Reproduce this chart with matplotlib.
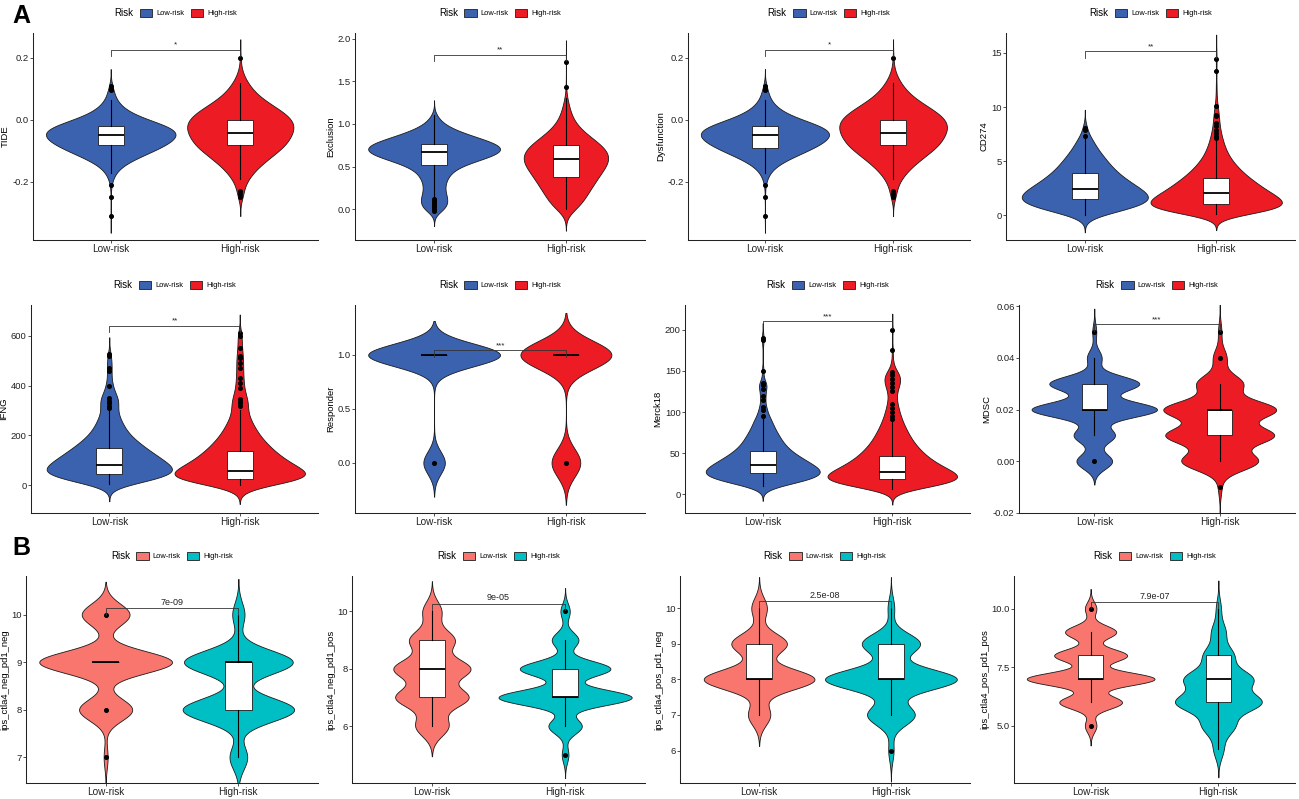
import numpy as np
import matplotlib
matplotlib.use("Agg")
import matplotlib.pyplot as plt
from matplotlib import mlab
from matplotlib.patches import Patch
from matplotlib.ticker import FormatStrFormatter

# ---------------- DATA ----------------
groups = ["Low-risk", "High-risk"]

# A1 TIDE
tide_low_vals = [-0.31, -0.25, -0.21, -0.19, -0.17, -0.15, -0.13, -0.11, -0.09, -0.07, -0.05, -0.03, -0.01, 0.01, 0.03, 0.05, 0.07, 0.09, 0.11]
tide_low_counts = [1, 1, 2, 6, 14, 30, 60, 100, 140, 172, 190, 185, 135, 80, 45, 25, 14, 9, 5]
tide_high_vals = [-0.25, -0.23, -0.21, -0.19, -0.17, -0.15, -0.13, -0.11, -0.09, -0.07, -0.05, -0.03, -0.01, 0.01, 0.03, 0.05, 0.07, 0.09, 0.11, 0.13, 0.15, 0.17, 0.2]
tide_high_counts = [8, 10, 14, 24, 38, 55, 78, 100, 125, 140, 150, 158, 158, 145, 120, 90, 62, 42, 28, 16, 8, 3, 2]
tide_low_box = [-0.17, -0.081, -0.050, -0.021, 0.065]
tide_high_box = [-0.19, -0.080, -0.041, 0.0, 0.12]
tide_low_out = [-0.31, -0.25, -0.21, 0.095, 0.10, 0.11]
tide_high_out = [-0.23, -0.24, -0.25, 0.2]

# A2 Exclusion
excl_low_vals = [-0.02, 0.0, 0.05, 0.1, 0.15, 0.2, 0.25, 0.3, 0.35, 0.4, 0.45, 0.5, 0.55, 0.6, 0.65, 0.7, 0.75, 0.8, 0.85, 0.9, 0.95, 1.0, 1.05, 1.1]
excl_low_counts = [10, 32, 40, 42, 38, 33, 31, 33, 38, 44, 55, 75, 110, 155, 195, 212, 200, 165, 120, 82, 50, 28, 15, 9]
excl_high_vals = [0.0, 0.05, 0.1, 0.15, 0.2, 0.25, 0.3, 0.35, 0.4, 0.45, 0.5, 0.55, 0.6, 0.65, 0.7, 0.75, 0.8, 0.85, 0.9, 0.95, 1.0, 1.05, 1.1, 1.15, 1.2, 1.25, 1.3, 1.43, 1.73]
excl_high_counts = [40, 45, 52, 60, 68, 76, 84, 92, 100, 110, 120, 128, 132, 130, 122, 108, 90, 72, 55, 40, 30, 22, 17, 13, 10, 7, 5, 2, 1]
excl_low_box = [0.15, 0.516, 0.669, 0.763, 1.10]
excl_high_box = [0.0, 0.372, 0.591, 0.751, 1.30]
excl_low_out = [0.12, 0.10, 0.08, 0.06, 0.04, 0.02, 0.0, -0.02]
excl_high_out = [1.43, 1.73]

# A3 Dysfunction
dysf_low_vals = [-0.31, -0.25, -0.21, -0.19, -0.17, -0.15, -0.13, -0.11, -0.09, -0.07, -0.05, -0.03, -0.01, 0.01, 0.03, 0.05, 0.07, 0.09, 0.11]
dysf_low_counts = [1, 1, 2, 6, 14, 30, 60, 100, 140, 172, 190, 185, 135, 80, 45, 25, 14, 9, 5]
dysf_high_vals = [-0.25, -0.23, -0.21, -0.19, -0.17, -0.15, -0.13, -0.11, -0.09, -0.07, -0.05, -0.03, -0.01, 0.01, 0.03, 0.05, 0.07, 0.09, 0.11, 0.13, 0.15, 0.17, 0.2]
dysf_high_counts = [8, 10, 14, 24, 38, 55, 78, 100, 125, 140, 150, 158, 158, 145, 120, 90, 62, 42, 28, 16, 8, 3, 2]
dysf_low_box = [-0.17, -0.090, -0.050, -0.021, 0.065]
dysf_high_box = [-0.19, -0.080, -0.041, 0.0, 0.12]
dysf_low_out = [-0.31, -0.25, -0.21, 0.095, 0.10, 0.11]
dysf_high_out = [-0.23, -0.24, -0.25, 0.2]

# A4 CD274
cd274_low_vals = [0.05, 0.5, 1.0, 1.5, 2.0, 2.5, 3.0, 3.5, 4.0, 4.5, 5.0, 5.5, 6.0, 6.5, 7.0, 7.35, 7.9, 8.1]
cd274_low_counts = [40, 120, 180, 200, 185, 160, 135, 112, 93, 78, 65, 53, 40, 30, 22, 8, 6, 6]
cd274_high_vals = [0.1, 0.5, 1.0, 1.5, 2.0, 2.5, 3.0, 3.5, 4.0, 4.5, 5.0, 5.5, 6.0, 6.5, 7.0, 7.5, 8.0, 8.5, 9.0, 9.5, 10.1, 11.0, 12.0, 13.3, 14.4, 15.2]
cd274_high_counts = [60, 170, 200, 180, 155, 130, 110, 90, 72, 58, 45, 35, 28, 22, 18, 14, 11, 9, 8, 7, 6, 3, 2, 2, 2, 1]
cd274_low_box = [0.05, 1.51, 2.43, 3.85, 7.0]
cd274_high_box = [0.1, 1.05, 2.06, 3.39, 6.9]
cd274_low_out = [7.35, 7.9, 8.1]
cd274_high_out = [7.1, 7.3, 7.6, 7.9, 8.2, 8.5, 9.2, 9.3, 10.1, 13.3, 14.4]

# B1 IFNG
ifng_low_vals = [5, 25, 50, 75, 100, 125, 150, 175, 200, 225, 250, 275, 300, 325, 350, 375, 400, 425, 450, 475, 500, 525]
ifng_low_counts = [35, 130, 190, 175, 150, 125, 100, 78, 58, 45, 36, 28, 22, 26, 26, 14, 10, 6, 6, 7, 6, 5]
ifng_high_vals = [0, 25, 50, 75, 100, 125, 150, 175, 200, 225, 250, 275, 300, 325, 350, 375, 400, 425, 450, 475, 500, 525, 550, 575, 600, 610]
ifng_high_counts = [60, 200, 185, 150, 122, 100, 82, 66, 52, 42, 33, 25, 20, 23, 20, 13, 11, 10, 9, 9, 9, 8, 6, 5, 5, 3]
ifng_low_box = [5, 44, 83, 149, 300]
ifng_high_box = [0, 25.5, 59, 139, 300]
ifng_low_out = [310, 320, 330, 340, 350, 400, 460, 470, 520, 525]
ifng_high_out = [320, 330, 340, 345, 390, 410, 430, 470, 490, 510, 520, 550, 600, 610]

# B2 Responder
resp_vals = [0, 1]
resp_low_counts = [14, 86]
resp_high_counts = [24, 76]
resp_low_box = [1, 1, 1, 1, 1]
resp_high_box = [1, 1, 1, 1, 1]
resp_low_out = [0]
resp_high_out = [0]

# B3 Merck18
merck_low_vals = [10, 15, 20, 25, 30, 35, 40, 45, 50, 55, 60, 65, 70, 75, 80, 85, 90, 95, 102, 106, 115, 120, 128, 133, 135, 150, 175, 188, 190]
merck_low_counts = [40, 110, 160, 178, 172, 150, 130, 110, 90, 76, 64, 56, 49, 42, 35, 30, 25, 22, 14, 12, 10, 10, 12, 12, 10, 6, 1, 4, 4]
merck_high_vals = [7, 10, 15, 20, 25, 30, 35, 40, 45, 50, 55, 60, 65, 70, 75, 80, 85, 90, 95, 100, 105, 110, 115, 120, 125, 130, 135, 140, 145, 150, 160, 175, 200]
merck_high_counts = [30, 110, 185, 200, 180, 155, 132, 113, 98, 85, 74, 64, 56, 49, 43, 37, 32, 27, 23, 20, 17, 14, 12, 11, 13, 17, 22, 25, 22, 15, 6, 4, 3]
merck_low_box = [10, 25.6, 35.3, 52.7, 93]
merck_high_box = [7, 18.3, 27.6, 46.2, 88]
merck_low_out = [95, 102, 106, 115, 120, 128, 133, 135, 150, 188, 190]
merck_high_out = [92, 95, 100, 105, 110, 125, 130, 135, 140, 145, 148, 175, 200]

# B4 MDSC
mdsc_low_vals = [0.0, 0.01, 0.02, 0.03, 0.04, 0.05]
mdsc_low_counts = [27, 31, 95, 68, 11, 3]
mdsc_high_vals = [-0.01, 0.0, 0.01, 0.02, 0.03, 0.04, 0.05]
mdsc_high_counts = [3, 68, 96, 100, 41, 12, 3]
mdsc_low_box = [0.01, 0.02, 0.02, 0.03, 0.04]
mdsc_high_box = [0.0, 0.01, 0.02, 0.02, 0.03]
mdsc_low_out = [0.0, 0.05]
mdsc_high_out = [-0.01, 0.04, 0.05]

# C1 ips_ctla4_neg_pd1_neg
nn_low_vals = [7, 8, 9, 10]
nn_low_counts = [3, 40, 100, 36]
nn_high_vals = [7, 8, 9, 10]
nn_high_counts = [13, 82, 80, 9]
nn_low_box = [9, 9, 9, 9, 9]
nn_high_box = [7, 8, 9, 9, 10]
nn_low_out = [7, 8, 10]
nn_high_out = []

# C2 ips_ctla4_neg_pd1_pos
np_low_vals = [6, 7, 8, 9, 10]
np_low_counts = [45, 100, 105, 62, 26]
np_high_vals = [5, 6, 7, 8, 9, 10]
np_high_counts = [5, 25, 100, 68, 20, 7]
np_low_box = [6, 7, 8, 9, 10]
np_high_box = [6, 7, 7, 8, 9]
np_low_out = []
np_high_out = [5, 10]

# C3 ips_ctla4_pos_pd1_neg
pn_low_vals = [7, 8, 9, 10]
pn_low_counts = [20, 100, 50, 14]
pn_high_vals = [6, 7, 8, 9, 10]
pn_high_counts = [4, 36, 100, 44, 5]
pn_low_box = [7, 8, 8, 9, 10]
pn_high_box = [7, 8, 8, 9, 10]
pn_low_out = []
pn_high_out = [6]

# C4 ips_ctla4_pos_pd1_pos
pp_low_vals = [5, 6, 7, 8, 9, 10]
pp_low_counts = [9, 49, 100, 57, 40, 9]
pp_high_vals = [4, 5, 6, 7, 8, 9, 10]
pp_high_counts = [14, 45, 120, 95, 42, 20, 7]
pp_low_box = [6, 7, 7, 8, 9]
pp_high_box = [4, 6, 7, 8, 10]
pp_low_out = [5, 10]
pp_high_out = []

ylabels = ["TIDE", "Exclusion", "Dysfunction", "CD274",
           "IFNG", "Responder", "Merck18", "MDSC",
           "ips_ctla4_neg_pd1_neg", "ips_ctla4_neg_pd1_pos", "ips_ctla4_pos_pd1_neg", "ips_ctla4_pos_pd1_pos"]
sig_labels = ["*", "**", "*", "**", "**", "***", "***", "***", "7e-09", "9e-05", "2.5e-08", "7.9e-07"]
sig_y = [0.226, 1.816, 0.226, 15.15, 640, 1.043, 210, 0.0529, 10.13, 10.27, 10.19, 10.28]

# ---------------- STYLE / LAYOUT ----------------
plt.rcParams['font.family'] = ['Liberation Sans', 'DejaVu Sans']
plt.rcParams['axes.unicode_minus'] = False

W, H = 1299, 799
fig = plt.figure(figsize=(W / 100, H / 100), dpi=100)

colA = ["#3B62AF", "#ED1C24"]
colB = ["#F8766D", "#00BFC4"]

panels = [
    dict(rect=(33, 33, 318, 240), d=(tide_low_vals, tide_low_counts, tide_high_vals, tide_high_counts), box=(tide_low_box, tide_high_box), out=(tide_low_out, tide_high_out), bw=(0.018, 0.02), w=(1.0, 0.82), ylim=(-0.387, 0.28), yt=[-0.2, 0.0, 0.2], fmt='%.1f', col=colA),
    dict(rect=(355, 33, 645, 240), d=(excl_low_vals, excl_low_counts, excl_high_vals, excl_high_counts), box=(excl_low_box, excl_high_box), out=(excl_low_out, excl_high_out), bw=(0.06, 0.085), w=(1.0, 0.64), ylim=(-0.364, 2.07), yt=[0.0, 0.5, 1.0, 1.5, 2.0], fmt='%.1f', col=colA),
    dict(rect=(688, 33, 970, 240), d=(dysf_low_vals, dysf_low_counts, dysf_high_vals, dysf_high_counts), box=(dysf_low_box, dysf_high_box), out=(dysf_low_out, dysf_high_out), bw=(0.018, 0.02), w=(1.0, 0.84), ylim=(-0.387, 0.28), yt=[-0.2, 0.0, 0.2], fmt='%.1f', col=colA),
    dict(rect=(1006, 33, 1295, 240), d=(cd274_low_vals, cd274_low_counts, cd274_high_vals, cd274_high_counts), box=(cd274_low_box, cd274_high_box), out=(cd274_low_out, cd274_high_out), bw=(0.55, 0.5), w=(0.96, 1.0), ylim=(-2.31, 16.85), yt=[0, 5, 10, 15], fmt='%d', col=colA),
    dict(rect=(31, 305, 318, 513), d=(ifng_low_vals, ifng_low_counts, ifng_high_vals, ifng_high_counts), box=(ifng_low_box, ifng_high_box), out=(ifng_low_out, ifng_high_out), bw=(23, 25), w=(0.96, 1.0), ylim=(-111, 723), yt=[0, 200, 400, 600], fmt='%d', col=colA),
    dict(rect=(355, 305, 645, 513), d=(resp_vals, resp_low_counts, resp_vals, resp_high_counts), box=(resp_low_box, resp_high_box), out=(resp_low_out, resp_high_out), bw=(0.105, 0.13), w=(1.0, 0.69), ylim=(-0.466, 1.463), yt=[0.0, 0.5, 1.0], fmt='%.1f', col=colA),
    dict(rect=(685, 305, 970, 513), d=(merck_low_vals, merck_low_counts, merck_high_vals, merck_high_counts), box=(merck_low_box, merck_high_box), out=(merck_low_out, merck_high_out), bw=(6.0, 6.5), w=(0.88, 1.0), ylim=(-22.7, 230), yt=[0, 50, 100, 150, 200], fmt='%d', col=colA),
    dict(rect=(1019, 305, 1295, 513), d=(mdsc_low_vals, mdsc_low_counts, mdsc_high_vals, mdsc_high_counts), box=(mdsc_low_box, mdsc_high_box), out=(mdsc_low_out, mdsc_high_out), bw=(0.003, 0.0035), w=(1.0, 0.90), ylim=(-0.02, 0.0604), yt=[-0.02, 0.0, 0.02, 0.04, 0.06], fmt='%.2f', col=colA),
    dict(rect=(26, 576, 318, 783), d=(nn_low_vals, nn_low_counts, nn_high_vals, nn_high_counts), box=(nn_low_box, nn_high_box), out=(nn_low_out, nn_high_out), bw=(0.23, 0.25), w=(1.0, 0.84), ylim=(6.46, 10.81), yt=[7, 8, 9, 10], fmt='%d', col=colB),
    dict(rect=(352, 576, 645, 783), d=(np_low_vals, np_low_counts, np_high_vals, np_high_counts), box=(np_low_box, np_high_box), out=(np_low_out, np_high_out), bw=(0.35, 0.27), w=(0.58, 1.0), ylim=(4.02, 11.23), yt=[6, 8, 10], fmt='%d', col=colB),
    dict(rect=(680, 576, 970, 783), d=(pn_low_vals, pn_low_counts, pn_high_vals, pn_high_counts), box=(pn_low_box, pn_high_box), out=(pn_low_out, pn_high_out), bw=(0.29, 0.29), w=(0.84, 1.0), ylim=(5.09, 10.9), yt=[6, 7, 8, 9, 10], fmt='%d', col=colB),
    dict(rect=(1014, 576, 1295, 783), d=(pp_low_vals, pp_low_counts, pp_high_vals, pp_high_counts), box=(pp_low_box, pp_high_box), out=(pp_low_out, pp_high_out), bw=(0.28, 0.4), w=(1.0, 0.68), ylim=(2.56, 11.39), yt=[5.0, 7.5, 10.0], fmt='%.1f', col=colB),
]


def kde_stats(vals, counts, bw):
    data = np.repeat(np.asarray(vals, float), counts)
    kde = mlab.GaussianKDE(data, bw_method=bw / data.std(ddof=1))
    coords = np.linspace(data.min() - 3 * bw, data.max() + 3 * bw, 500)
    return dict(coords=coords, vals=kde.evaluate(coords), mean=data.mean(),
                median=np.median(data), min=data.min(), max=data.max())


def move_title_left(leg):
    vp = leg._legend_box
    title_box = leg._legend_title_box
    hbox = leg._legend_handle_box
    vp._children = [hbox]
    hbox._children.insert(0, title_box)
    hbox.align = 'center'


for i, p in enumerate(panels):
    l, t, r, b = p['rect']
    ax = fig.add_axes([l / W, 1 - b / H, (r - l) / W, (b - t) / H])
    lv, lc, hv, hc = p['d']
    for k, (vals, cnts) in enumerate([(lv, lc), (hv, hc)]):
        st = kde_stats(vals, cnts, p['bw'][k])
        parts = ax.violin([st], positions=[k + 1], widths=p['w'][k],
                          showmeans=False, showextrema=False, showmedians=False)
        for body in parts['bodies']:
            body.set_facecolor(p['col'][k])
            body.set_edgecolor('#1a1a1a')
            body.set_linewidth(0.6)
            body.set_alpha(1)
            body.set_zorder(1)
    bstats = []
    for k in range(2):
        bx = p['box'][k]
        bstats.append(dict(whislo=bx[0], q1=bx[1], med=bx[2], q3=bx[3], whishi=bx[4],
                           fliers=np.asarray(p['out'][k], float)))
    ax.bxp(bstats, positions=[1, 2], widths=0.2, patch_artist=True, showcaps=False,
           manage_ticks=False, zorder=3,
           boxprops=dict(facecolor='white', edgecolor='#1a1a1a', linewidth=0.6),
           medianprops=dict(color='black', linewidth=1.3),
           whiskerprops=dict(color='black', linewidth=0.8),
           flierprops=dict(marker='o', markerfacecolor='black', markeredgecolor='black',
                           markersize=2.6, linestyle='none'))
    ax.set_xlim(0.4, 2.6)
    y0, y1 = p['ylim']
    ax.set_ylim(y0, y1)
    ax.set_xticks([1, 2])
    ax.set_xticklabels(groups)
    ax.set_yticks(p['yt'])
    ax.yaxis.set_major_formatter(FormatStrFormatter(p['fmt']))
    ax.set_ylabel(ylabels[i], fontsize=6.8, labelpad=1.5)
    for s in ['top', 'right']:
        ax.spines[s].set_visible(False)
    for s in ['left', 'bottom']:
        ax.spines[s].set_linewidth(0.75)
        ax.spines[s].set_color('#222222')
    ax.tick_params(axis='both', length=2.2, width=0.6, color='#333333', pad=1.0)
    ax.tick_params(axis='y', labelsize=6.8, labelcolor='#222222')
    ax.tick_params(axis='x', labelsize=7.2, labelcolor='#222222')

    # significance bracket
    ys = sig_y[i]
    tip = 0.03 * (y1 - y0)
    ax.plot([1, 1, 2, 2], [ys - tip, ys, ys, ys - tip], color='#333333', lw=0.6, zorder=5,
            clip_on=False)
    ax.annotate(sig_labels[i], xy=(1.5, ys), xytext=(0, 0.8), textcoords='offset points',
                ha='center', va='bottom', fontsize=(5.8 if i < 8 else 6.5), color='#222222')

    # legend above the panel
    handles = [Patch(facecolor=c, edgecolor='#333333', linewidth=0.7) for c in p['col']]
    cx = (l + r) / 2 / W
    cy = 1 - (t - 20) / H
    leg = fig.legend(handles, groups, title='Risk', loc='center', bbox_to_anchor=(cx, cy),
                     ncol=2, frameon=False, fontsize=5.4, title_fontsize=7.0,
                     handlelength=1.65, handleheight=1.45, handletextpad=0.55,
                     columnspacing=0.85, borderpad=0, borderaxespad=0)
    move_title_left(leg)

fig.text(12 / W, 1 - 16 / H, 'A', fontsize=18, fontweight='bold', ha='left', va='center')
fig.text(12 / W, 1 - 548 / H, 'B', fontsize=18, fontweight='bold', ha='left', va='center')

fig.savefig('out.png', dpi=100)
